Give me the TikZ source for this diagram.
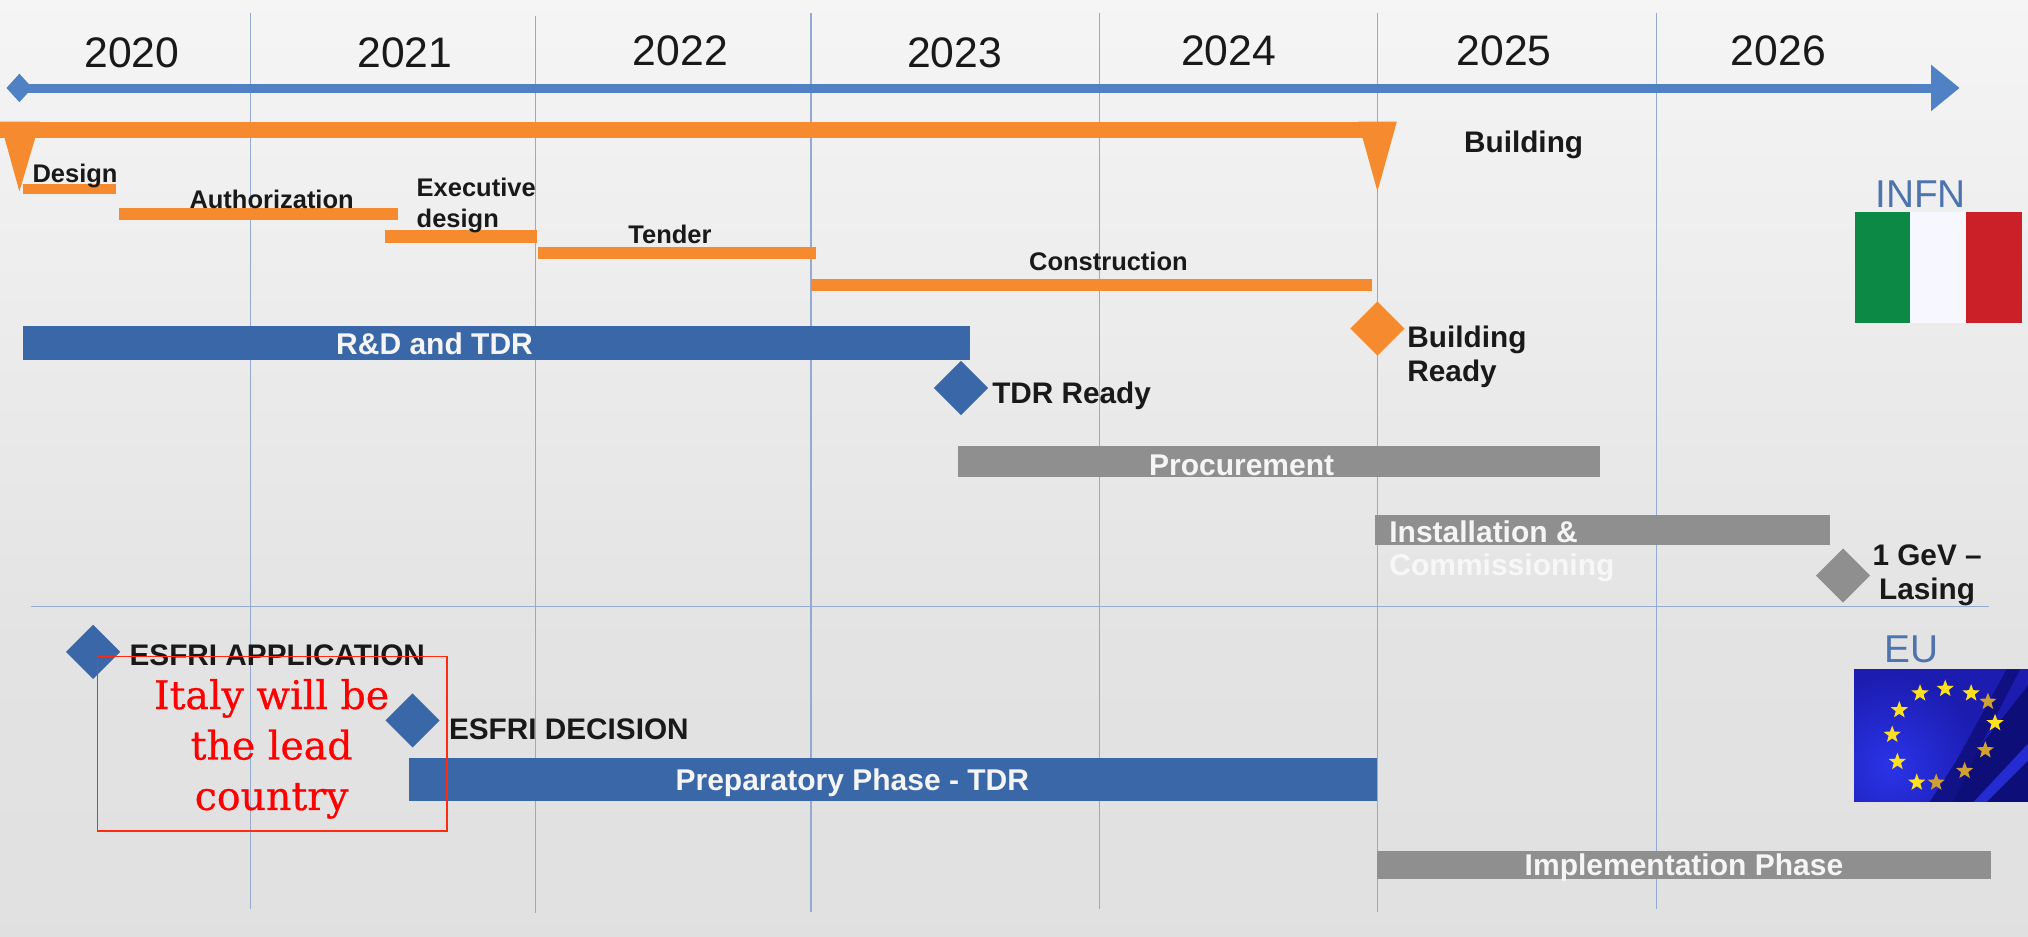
\documentclass[tikz,border=0pt]{standalone}
\usepackage{fontspec}
\setmainfont{Liberation Sans}
\newfontfamily\slabfont[FakeBold=0.6]{DejaVu Serif}
\usetikzlibrary{shapes.geometric}
\definecolor{axisblue}{HTML}{4F81C4}
\definecolor{barblue}{HTML}{3A67A8}
\definecolor{barorange}{HTML}{F58B2E}
\definecolor{bargrey}{HTML}{8F8F8F}
\definecolor{gridblue}{HTML}{94AAD0}
\definecolor{headblue}{HTML}{4F74AD}
\definecolor{redbox}{HTML}{FF2A10}
\definecolor{itgreen}{HTML}{0C8A45}
\definecolor{itred}{HTML}{CB2028}
\definecolor{eudark}{HTML}{0E0E78}
\definecolor{eumid}{HTML}{1C1CB0}
\definecolor{eubright}{HTML}{2A34E8}
\definecolor{eugold}{HTML}{FFE020}
\definecolor{eudim}{HTML}{D0A030}
\tikzset{
  gridline/.style={draw=gridblue,line width=0.9pt},
  yearlabel/.style={font=\fontsize{33}{33}\selectfont,text=black!90,inner sep=0pt},
  orangebar/.style={fill=barorange},
  bluebar/.style={fill=barblue},
  greybar/.style={fill=bargrey},
  smalllabel/.style={font=\bfseries\fontsize{19.7}{24}\selectfont,text=black!90,inner sep=0pt},
  biglabel/.style={font=\bfseries\fontsize{23}{26}\selectfont,text=black!90,inner sep=0pt,align=left},
  whitelabel/.style={font=\bfseries\fontsize{23.2}{26}\selectfont,text=white!96!black,inner sep=0pt},
  head/.style={font=\fontsize{30}{30}\selectfont,text=headblue,inner sep=0pt},
  milestone/.style={diamond,minimum width=42pt,minimum height=42pt,inner sep=0pt,aspect=1},
  eustar/.style={star,star points=5,star point ratio=2.4,fill=eugold,minimum size=14pt,inner sep=0pt},
  eustardim/.style={eustar,fill=eudim},
}
\begin{document}
\begin{tikzpicture}[x=1pt,y=-1pt]
\useasboundingbox (0,0) rectangle (1568,724.45);
% background
\fill[top color=white!96!black,bottom color=black!11] (0,0) rectangle (1568,500);
\fill[top color=black!11,bottom color=black!12] (0,500) rectangle (1568,724.45);
% grid lines
\foreach \gx/\gt/\gb in {194/10/703,414/12/706,627/10/705,850/10/703,1065/10/705,1281/10/703}
  \draw[gridline] (\gx,\gt) -- (\gx,\gb);
\draw[gridline] (24,469) -- (1538,469);
% years
\foreach \yx/\yy/\yt in {102/41/2020,313/41/2021,526/39/2022,738/41/2023,950/39/2024,1163/39/2025,1375/39/2026}
  \node[yearlabel] (y\yt) at (\yx,\yy) {\yt};
% time axis
\fill[axisblue] (15,65) rectangle (1495,72);
\fill[axisblue] (1493,50) -- (1515,68) -- (1493,86) -- cycle;
\fill[axisblue] (15,57) -- (25,68) -- (15,79) -- (5,68) -- cycle;
% building bracket
\fill[barorange] (0,94) rectangle (1068,107);
\fill[barorange] (0,94) -- (31,94) -- (15,148) -- cycle;
\fill[barorange] (1050,94) -- (1080,94) -- (1065,148) -- cycle;
% orange phases
\fill[orangebar] (18,142) rectangle (90,150);
\fill[orangebar] (92,161) rectangle (308,170);
\fill[orangebar] (298,178) rectangle (415,188);
\fill[orangebar] (416,191) rectangle (631,200);
\fill[orangebar] (627,216) rectangle (1061,225);
\node[smalllabel,anchor=west] (design) at (25,136) {Design};
\node[smalllabel] (auth) at (210,154) {Authorization};
\node[smalllabel,anchor=west,align=left] (exec) at (322,159) {Executive\\design};
\node[smalllabel] (tender) at (518,181) {Tender};
\node[smalllabel] (constr) at (857,202) {Construction};
\node[biglabel] (building) at (1178,112) {Building};
% R&D
\fill[bluebar] (18,252) rectangle (750,278);
\node[whitelabel] (rd) at (336,266) {R\&D and TDR};
\node[milestone,fill=barblue] (tdrm) at (743,300) {};
\node[biglabel,anchor=west] (tdr) at (767,306) {TDR Ready};
\node[milestone,fill=barorange] (bldm) at (1065,254) {};
\node[biglabel,anchor=west] (bld) at (1088,276) {Building\\Ready};
% grey
\fill[greybar] (741,345) rectangle (1237,369);
\node[whitelabel] (proc) at (960,360) {Procurement};
\fill[greybar] (1063,398) rectangle (1415,421);
\node[whitelabel,anchor=west] (inst) at (1074,411) {Installation \&};
\node[whitelabel,anchor=west,text=white!70!black!10] (comm) at (1074,439) {Commissioning};
\node[milestone,fill=bargrey] (gevm) at (1425,445) {};
\node[biglabel,align=center] (gev) at (1490,445) {1 GeV –\\Lasing};
% lower section
\node[milestone,fill=barblue] (appm) at (72,504) {};
\node[biglabel,anchor=west] (app) at (100,507) {ESFRI APPLICATION};
\node[milestone,fill=barblue] (decm) at (319,557) {};
\node[biglabel,anchor=west] (dec) at (347,564) {ESFRI DECISION};
\fill[bluebar] (316,586) rectangle (1065,619);
\node[whitelabel] (prep) at (659,605) {Preparatory Phase - TDR};
\fill[greybar] (1065,658) rectangle (1539,680);
\node[whitelabel] (impl) at (1302,671) {Implementation Phase};
% Italy flag
\node[head] (infn) at (1485,150) {INFN};
\fill[itgreen] (1434,164) rectangle (1477,250);
\fill[white!97!blue] (1477,164) rectangle (1520,250);
\fill[itred] (1520,164) rectangle (1563,250);
% EU flag
\node[head] (eu) at (1478,502) {EU};
\begin{scope}
\clip (1433.5,517.5) rectangle (1568,620);
\fill[eumid] (1433.5,517.5) rectangle (1568,620);
\shade[inner color=eubright,outer color=eumid] (1462,592) circle (70pt);
\fill[eudark,opacity=.8] (1492,620) -- (1513,587.5) -- (1551.5,517.5) -- (1562,517.5) -- (1531,577) -- (1510,620) -- cycle;
\fill[eudark] (1510,620) -- (1531,577) -- (1568,530) -- (1568,620) -- cycle;
\fill[eubright,opacity=.8] (1526,620) -- (1568,575) -- (1568,588) -- (1536,620) -- cycle;
\end{scope}
\foreach \sx/\sy/\sk [count=\si] in {1468.5/549/eustar,1484.5/536/eustar,1504/532.5/eustar,1524/536/eustar,1537/542.5/eustardim,1542.5/559/eustar,1535/580/eustardim,1519/596/eustardim,1497/605/eustardim,1482/605/eustar,1467/589/eustar,1463/568/eustar}
  \node[\sk] (s\si) at (\sx,\sy) {};
% red note
\node[draw=redbox,line width=1pt,minimum width=270pt,minimum height=135pt,inner sep=0pt,anchor=north west] (note) at (75,507) {};
\node[align=center,inner sep=0pt,text=red,font=\slabfont\fontsize{30.5}{39}\selectfont] (notetext) at (210,579) {Italy will be\\the lead\\country};
\end{tikzpicture}
\end{document}
